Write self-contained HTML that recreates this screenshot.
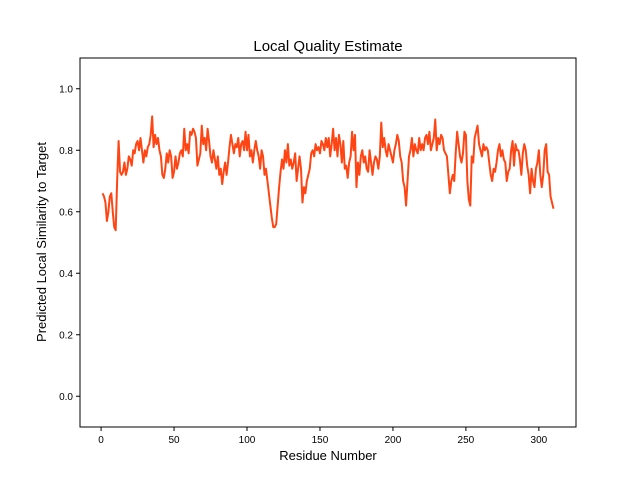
<!DOCTYPE html>
<html><head><meta charset="utf-8"><style>
body{margin:0;background:#fff}
svg{display:block;font-family:"Liberation Sans","DejaVu Sans",sans-serif}
</style></head><body>
<svg id="chart" width="640" height="480">
<rect width="640" height="480" fill="#fff"/>
<text x="328" y="51" text-anchor="middle" font-size="15" fill="#000">Local Quality Estimate</text>
<text x="328" y="460" text-anchor="middle" font-size="13" fill="#000">Residue Number</text>
<text transform="translate(46,242) rotate(-90)" text-anchor="middle" font-size="13" fill="#000">Predicted Local Similarity to Target</text>
<g id="ticks"></g>
<g id="series"></g>
<rect x="80" y="58" width="496" height="369" fill="none" stroke="#000" stroke-width="1"/>
</svg>
<script>
const xTicks=[0,50,100,150,200,250,300];
const yTicks=[0.0,0.2,0.4,0.6,0.8,1.0];
const yTickLabels=["0.0","0.2","0.4","0.6","0.8","1.0"];
const scores=[
.66,.65,.63,.57,.60,.65,.66,.60,.55,.54,
.70,.83,.73,.72,.73,.76,.72,.74,.78,.77,
.75,.80,.79,.82,.83,.80,.84,.80,.76,.80,
.78,.81,.82,.85,.91,.81,.85,.82,.84,.80,
.78,.72,.71,.74,.79,.76,.80,.78,.71,.73,
.78,.74,.76,.79,.80,.78,.87,.80,.82,.79,
.86,.85,.87,.86,.84,.75,.77,.79,.88,.82,
.84,.80,.87,.83,.78,.76,.80,.77,.74,.78,
.72,.74,.69,.73,.76,.72,.76,.81,.85,.82,
.79,.82,.81,.84,.78,.82,.83,.80,.86,.80,
.85,.78,.80,.76,.80,.83,.80,.78,.74,.80,
.78,.72,.74,.70,.66,.62,.58,.55,.55,.56,
.62,.68,.73,.77,.74,.80,.76,.82,.75,.77,
.74,.76,.79,.70,.74,.78,.74,.63,.68,.66,
.70,.72,.74,.79,.80,.78,.82,.80,.81,.79,
.83,.82,.80,.84,.81,.84,.78,.82,.87,.80,
.84,.78,.85,.82,.76,.83,.74,.75,.71,.76,
.78,.86,.80,.85,.68,.76,.72,.78,.80,.76,
.78,.74,.73,.80,.76,.72,.76,.78,.77,.74,
.78,.89,.81,.84,.80,.78,.82,.80,.78,.76,
.80,.82,.85,.83,.78,.76,.70,.68,.62,.70,
.78,.80,.84,.78,.82,.80,.79,.84,.80,.82,
.80,.84,.85,.82,.86,.80,.82,.84,.90,.80,
.84,.82,.85,.84,.80,.79,.78,.72,.66,.70,
.72,.70,.79,.86,.82,.78,.76,.79,.86,.85,
.70,.64,.62,.78,.76,.84,.86,.88,.82,.80,
.78,.82,.80,.81,.80,.76,.72,.70,.74,.73,
.76,.80,.82,.78,.80,.77,.76,.70,.73,.74,
.80,.83,.75,.82,.80,.80,.77,.72,.79,.82,
.80,.75,.72,.66,.74,.70,.68,.74,.76,.80,
.72,.68,.72,.80,.82,.73,.72,.65,.63,.61];
const NS="http://www.w3.org/2000/svg";
const X0=80,X1=576,Y0=427,Y1=58;
const xMin=1-0.05*(scores.length-1),xMax=scores.length+0.05*(scores.length-1);
function xs(v){return X0+(v-xMin)/(xMax-xMin)*(X1-X0);}
function ys(v){return Y0-(v+0.1)/1.2*(Y0-Y1);}
const tg=document.getElementById('ticks');
xTicks.forEach(t=>{
  const l=document.createElementNS(NS,'line');
  l.setAttribute('x1',xs(t));l.setAttribute('x2',xs(t));l.setAttribute('y1',Y0);l.setAttribute('y2',Y0+4);l.setAttribute('stroke','#000');
  
  
  tg.appendChild(l);
  const tx=document.createElementNS(NS,'text');
  tx.setAttribute('x',xs(t));tx.setAttribute('y',Y0+16);tx.setAttribute('text-anchor','middle');tx.setAttribute('font-size','10');
  tx.textContent=t;
  
  
  tg.appendChild(tx);
});
yTicks.forEach((t,i)=>{
  const l=document.createElementNS(NS,'line');
  l.setAttribute('x1',X0-4);l.setAttribute('x2',X0);l.setAttribute('y1',ys(t));l.setAttribute('y2',ys(t));l.setAttribute('stroke','#000');
  
  
  tg.appendChild(l);
  const tx=document.createElementNS(NS,'text');
  tx.setAttribute('x',X0-7);tx.setAttribute('y',ys(t)+3.5);tx.setAttribute('text-anchor','end');tx.setAttribute('font-size','10');
  tx.textContent=yTickLabels[i];
  
  
  tg.appendChild(tx);
});
const p=document.createElementNS(NS,'polyline');
p.setAttribute('points',scores.map((v,i)=>xs(i+1).toFixed(2)+','+ys(v).toFixed(2)).join(' '));
p.setAttribute('fill','none');p.setAttribute('stroke','#ff4513');p.setAttribute('stroke-width','2');p.setAttribute('stroke-linejoin','round');


document.getElementById('series').appendChild(p);
</script>
</body></html>
